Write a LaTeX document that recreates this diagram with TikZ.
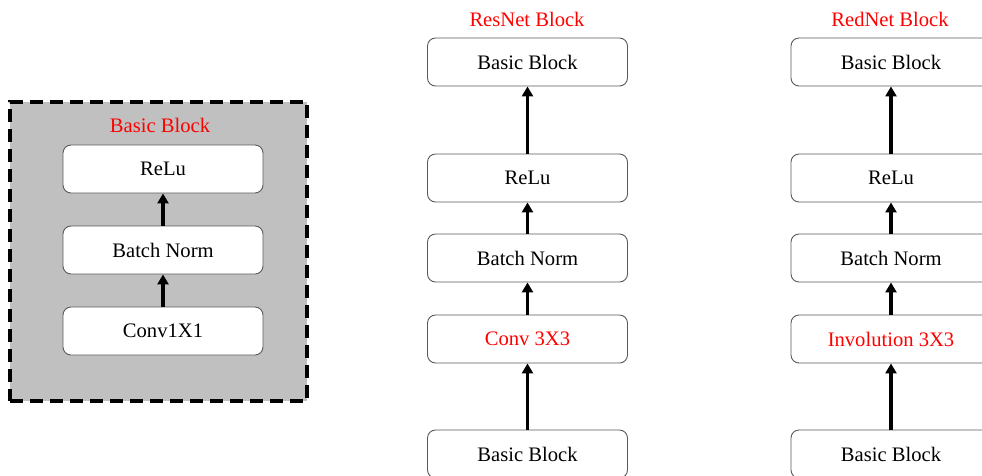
\documentclass[tikz,border=0pt]{standalone}
\usepackage{fontspec}
\setmainfont{Liberation Serif}
\usetikzlibrary{arrows.meta}
\definecolor{boxgray}{RGB}{192,192,192}
\definecolor{edgegray}{RGB}{90,90,90}
\definecolor{tred}{RGB}{255,0,0}
\begin{document}
\begin{tikzpicture}[x=1pt,y=-1pt,
  blk/.style={draw=edgegray,line width=0.9pt,fill=white,rounded corners=8pt,
    minimum width=200pt,minimum height=48pt,inner sep=0pt,font=\fontsize{20.6}{24}\selectfont},
  redtxt/.style={text=tred},
  ttl/.style={text=tred,font=\fontsize{20.6}{24}\selectfont,inner sep=0pt},
  arr/.style={-{Triangle[width=11pt,length=10pt]},line width=3.4pt,black}]
\useasboundingbox (0,0) rectangle (982,475);
\clip (0,0) rectangle (982,475);
% left basic block container
\node[draw=black,fill=boxgray,line width=3.6pt,dash pattern=on 13pt off 7pt,
  minimum width=297pt,minimum height=299pt,inner sep=0pt] (bb) at (158.5,251.5) {};
\node[ttl] (bbt) at (160,125) {Basic Block};
\node[blk] (lrelu) at (163,169) {ReLu};
\node[blk] (lbn) at (163,250) {Batch Norm};
\node[blk] (lconv) at (163,331) {Conv1X1};
\draw[arr] (lconv) -- (lbn);
\draw[arr] (lbn) -- (lrelu);
% ResNet column
\node[ttl] (rt) at (527,19) {ResNet Block};
\node[blk] (rtop) at (527.5,62) {Basic Block};
\node[blk] (rrelu) at (527.5,178) {ReLu};
\node[blk] (rbn) at (527.5,258) {Batch Norm};
\node[blk,redtxt] (rconv) at (527.5,339) {Conv 3X3};
\node[blk] (rbot) at (527.5,454) {Basic Block};
\draw[arr] (rbot) -- (rconv);
\draw[arr] (rconv) -- (rbn);
\draw[arr] (rbn) -- (rrelu);
\draw[arr] (rrelu) -- (rtop);
% RedNet column
\node[ttl] (dt) at (890,19) {RedNet Block};
\node[blk] (dtop) at (891,62) {Basic Block};
\node[blk] (drelu) at (891,178) {ReLu};
\node[blk] (dbn) at (891,258) {Batch Norm};
\node[blk,redtxt] (dinv) at (891,339) {Involution 3X3};
\node[blk] (dbot) at (891,454) {Basic Block};
\draw[arr] (dbot) -- (dinv);
\draw[arr] (dinv) -- (dbn);
\draw[arr] (dbn) -- (drelu);
\draw[arr] (drelu) -- (dtop);
\end{tikzpicture}
\end{document}
